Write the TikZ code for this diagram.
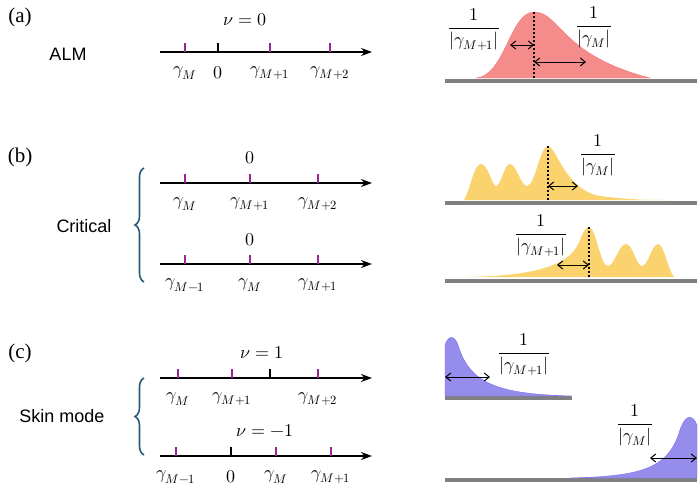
\documentclass[tikz,border=0pt]{standalone}
\usepackage{amsmath}
\usepackage{fontspec}
\setsansfont{Liberation Sans}
\setmainfont{Liberation Serif}
\usepackage{unicode-math}
\setmathfont{Latin Modern Math}
\usetikzlibrary{arrows.meta,positioning,decorations.pathreplacing}
\definecolor{tickpurple}{RGB}{150,40,150}
\definecolor{bracecol}{RGB}{40,90,120}
\definecolor{almred}{RGB}{245,140,140}
\definecolor{crityel}{RGB}{250,210,110}
\definecolor{skinblue}{RGB}{150,140,235}

\tikzset{axis/.style={line width=1.6pt,-{Stealth[length=11pt,width=8pt]}},
  ptick/.style={line width=1.4pt,tickpurple},
  btick/.style={line width=1.4pt,black},
  ground/.style={line width=3.5pt,gray},
  spread/.style={line width=1pt,{Straight Barb[length=5pt,width=8pt]}-{Straight Barb[length=5pt,width=8pt]}},
  peakline/.style={line width=2pt,dotted},
  panel/.style={font=\fontsize{21}{21}\selectfont},
  kind/.style={font=\sffamily\fontsize{18}{18}\selectfont},
  lab/.style={font=\fontsize{18}{18}\selectfont}}

\newcommand{\tk}[4]{\draw[#1] (#2,#3-9) -- (#2,#3); \node[lab] at (#2,#3+21) {#4};}

\begin{document}
\begin{tikzpicture}[x=1pt,y=-1pt]
  \useasboundingbox (0,0) rectangle (700,493);
  % left column
  \node[panel] (pa) at (20,17) {(a)};
  \node[panel] (pb) at (20,157) {(b)};
  \node[panel] (pc) at (20,353) {(c)};
  \node[kind] (alm) at (68,54) {ALM};
  \node[kind] (crit) at (84,226) {Critical};
  \node[kind] (skin) at (62,416) {Skin mode};
  \draw[decorate,decoration={brace,amplitude=9pt},line width=1.6pt,bracecol] (144,282) -- (144,168);
  \draw[decorate,decoration={brace,amplitude=9pt},line width=1.6pt,bracecol] (144,455) -- (144,378);

  \coordinate (a0) at (160,52);  \coordinate (a1) at (372,52);
  \draw[axis] (a0) -- (a1);
  \node[lab] (nua) at (245,20) {$\nu=0$};
  \tk{ptick}{185}{52}{$\gamma_M$} \tk{btick}{218}{52}{$0$}
  \tk{ptick}{270}{52}{$\gamma_{M+1}$} \tk{ptick}{330}{52}{$\gamma_{M+2}$}

  \coordinate (b0) at (160,183); \coordinate (b1) at (372,183);
  \draw[axis] (b0) -- (b1);
  \node[lab] (nub) at (250,158) {$0$};
  \tk{ptick}{185}{183}{$\gamma_M$} \tk{ptick}{250}{183}{$\gamma_{M+1}$} \tk{ptick}{318}{183}{$\gamma_{M+2}$}

  \coordinate (c0) at (160,264); \coordinate (c1) at (372,264);
  \draw[axis] (c0) -- (c1);
  \node[lab] (nuc) at (250,240) {$0$};
  \tk{ptick}{185}{264}{$\gamma_{M-1}$} \tk{ptick}{250}{264}{$\gamma_M$} \tk{ptick}{318}{264}{$\gamma_{M+1}$}

  \coordinate (d0) at (160,378); \coordinate (d1) at (372,378);
  \draw[axis] (d0) -- (d1);
  \node[lab] (nud) at (262,352) {$\nu=1$};
  \tk{ptick}{178}{378}{$\gamma_M$} \tk{ptick}{232}{378}{$\gamma_{M+1}$}
  \tk{btick}{270}{378}{} \tk{ptick}{318}{378}{$\gamma_{M+2}$}

  \coordinate (e0) at (160,456); \coordinate (e1) at (372,456);
  \draw[axis] (e0) -- (e1);
  \node[lab] (nue) at (265,430) {$\nu=-1$};
  \tk{ptick}{176}{456}{$\gamma_{M-1}$} \tk{btick}{231}{456}{$0$}
  \tk{ptick}{276}{456}{$\gamma_M$} \tk{ptick}{331}{456}{$\gamma_{M+1}$}

  % right column: profiles
  \draw[ground] (445,81) -- (697,81);
  \fill[almred,draw=almred!80!red] (476,78) .. controls (505,76) and (510,12) .. (534,12)
     .. controls (560,12) and (560,55) .. (650,78) -- cycle;
  \draw[peakline] (534,12) -- (534,78);
  \draw[spread] (510,45) -- (534,45);
  \draw[spread] (534,62) -- (586,62);
  \node[lab] (fa1) at (474,30) {$\dfrac{1}{|\gamma_{M+1}|}$};
  \node[lab] (fa2) at (594,27) {$\dfrac{1}{|\gamma_M|}$};

  \draw[ground] (445,203) -- (697,203);
  \fill[crityel] (464,200) .. controls (470,190) and (474,164) .. (481,164)
     .. controls (488,164) and (492,186) .. (496,186) .. controls (501,186) and (504,164) .. (510,164)
     .. controls (516,164) and (521,186) .. (527,186) .. controls (535,186) and (540,146) .. (548,146)
     .. controls (556,146) and (565,190) .. (600,196) .. controls (630,200) and (650,200) .. (671,200) -- cycle;
  \draw[peakline] (548,146) -- (548,200);
  \draw[spread] (548,186) -- (578,186);
  \node[lab] (fb1) at (598,155) {$\dfrac{1}{|\gamma_M|}$};

  \draw[ground] (445,281) -- (697,281);
  \fill[crityel] (467,277) .. controls (520,276) and (570,270) .. (580,240)
     .. controls (583,232) and (586,227) .. (589,227) .. controls (596,227) and (600,266) .. (608,266)
     .. controls (614,266) and (619,244) .. (626,244) .. controls (633,244) and (636,266) .. (642,266)
     .. controls (648,266) and (652,244) .. (658,244) .. controls (664,244) and (668,270) .. (674,277) -- cycle;
  \draw[peakline] (589,227) -- (589,278);
  \draw[spread] (557,265) -- (589,265);
  \node[lab] (fb2) at (541,236) {$\dfrac{1}{|\gamma_{M+1}|}$};

  \draw[ground] (445,398) -- (572,398);
  \fill[skinblue,draw=skinblue!80!blue] (445,396) -- (445,345) .. controls (448,336) and (454,334) .. (458,345)
     .. controls (470,385) and (500,394) .. (572,396) -- cycle;
  \draw[spread] (445,377) -- (490,377);
  \node[lab] (fc1) at (524,355) {$\dfrac{1}{|\gamma_{M+1}|}$};

  \draw[ground] (445,480) -- (697,480);
  \fill[skinblue,draw=skinblue!80!blue] (570,478) .. controls (640,476) and (668,470) .. (680,430)
     .. controls (685,415) and (692,413) .. (697,425) -- (697,478) -- cycle;
  \draw[spread] (650,458) -- (697,458);
  \node[lab] (fc2) at (635,425) {$\dfrac{1}{|\gamma_M|}$};
\end{tikzpicture}
\end{document}
